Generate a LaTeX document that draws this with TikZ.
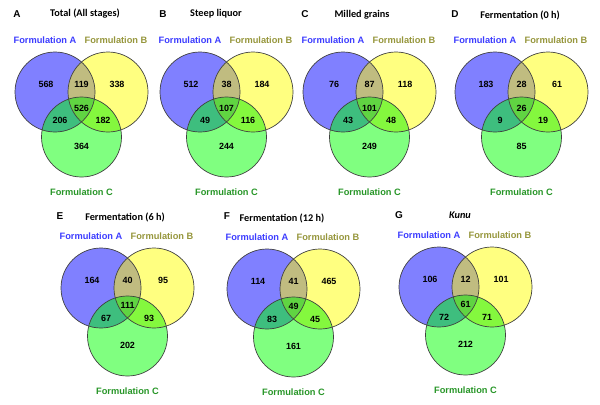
\documentclass[tikz,border=0pt]{standalone}
\usepackage{fontspec}
\setmainfont{Liberation Sans}
\newfontfamily\titlefont{Carlito}
\definecolor{colA}{RGB}{128,128,255}
\definecolor{colB}{RGB}{255,255,128}
\definecolor{colC}{RGB}{128,255,128}
\definecolor{colAB}{RGB}{192,188,128}
\definecolor{colAC}{RGB}{62,190,126}
\definecolor{colBC}{RGB}{132,248,62}
\definecolor{colABC}{RGB}{96,212,66}
\definecolor{txtA}{RGB}{60,60,255}
\definecolor{txtB}{RGB}{150,150,60}
\definecolor{txtC}{RGB}{40,150,40}

% one venn panel: name, x, y of circle A, drop of circle C, numbers
\newcommand{\venn}[5]{
  \begin{scope}[shift={(#2,#3)}]
    \coordinate (#1a) at (0,0);
    \coordinate (#1b) at (53,0);
    \coordinate (#1c) at (26.5,#4);
    \fill[colA] (#1a) circle [radius=40bp];
    \fill[colB] (#1b) circle [radius=40bp];
    \fill[colC] (#1c) circle [radius=40bp];
    \begin{scope}
      \clip (#1a) circle [radius=40bp];
      \fill[colAB] (#1b) circle [radius=40bp];
      \fill[colAC] (#1c) circle [radius=40bp];
    \end{scope}
    \begin{scope}
      \clip (#1b) circle [radius=40bp];
      \fill[colBC] (#1c) circle [radius=40bp];
      \clip (#1a) circle [radius=40bp];
      \fill[colABC] (#1c) circle [radius=40bp];
    \end{scope}
    \foreach \c in {a,b,c}
      \draw[ring] (#1\c) circle [radius=40bp];
    \node[lbl, txtA] (#1la) at (-10,-52) {Formulation A};
    \node[lbl, txtB] (#1lb) at (61,-52) {Formulation B};
    \node[lbl, txtC] (#1lc) at (26.5,#4+55) {Formulation C};
    \foreach \na/\nab/\nb/\nabc/\nac/\nbc/\nc in {#5} {
      \node[num] (#1na) at (-9,-7.5) {\na};
      \node[num] (#1nab) at (26.5,-7.5) {\nab};
      \node[num] (#1nb) at (62,-7.5) {\nb};
      \node[num] (#1nabc) at (26.5,0.36*#4) {\nabc};
      \node[num] (#1nac) at (5,0.63*#4) {\nac};
      \node[num] (#1nbc) at (48,0.63*#4) {\nbc};
      \node[num] (#1nc) at (26.5,1.2*#4) {\nc};
    }
  \end{scope}
}

\begin{document}
\begin{tikzpicture}[x=1bp, y=-1bp,
    ring/.style = {draw=black!75, line width=0.7bp},
    lbl/.style = {inner sep=0pt, font=\fontsize{9.3}{11}\selectfont\bfseries},
    num/.style = {inner sep=0pt, font=\fontsize{9}{11}\selectfont\bfseries},
    letter/.style = {inner sep=0pt, font=\fontsize{10}{12}\selectfont\bfseries},
    ttl/.style = {inner sep=0pt, font=\titlefont\fontsize{10.3}{12}\selectfont\bfseries}]
  \useasboundingbox (0,0) rectangle (600,404);

  \venn{pa}{55}{92}{45}{568/119/338/526/206/182/364}
  \venn{pb}{200}{92}{45}{512/38/184/107/49/116/244}
  \venn{pc}{343}{92}{45}{76/87/118/101/43/48/249}
  \venn{pd}{495}{92}{45}{183/28/61/26/9/19/85}
  \venn{pe}{101}{288}{48}{164/40/95/111/67/93/202}
  \venn{pf}{267}{289}{48}{114/41/465/49/83/45/161}
  \venn{pg}{439}{287}{48}{106/12/101/61/72/71/212}

  \node[letter] (la) at (17,14) {A};
  \node[ttl] (ta) at (85,14) {Total (All stages)};
  \node[letter] (lb) at (163,14) {B};
  \node[ttl] (tb) at (216,14) {Steep liquor};
  \node[letter] (lc) at (305,14) {C};
  \node[ttl] (tc) at (362,15) {Milled grains};
  \node[letter] (ld) at (455,14) {D};
  \node[ttl] (td) at (520,15) {Fermentation (0 h)};
  \node[letter] (le) at (60,216) {E};
  \node[ttl] (te) at (125,217) {Fermentation (6 h)};
  \node[letter] (lf) at (227,216) {F};
  \node[ttl] (tf) at (282,218) {Fermentation (12 h)};
  \node[letter] (lg) at (399,215) {G};
  \node[ttl] (tg) at (460,215) {\itshape Kunu};
\end{tikzpicture}
\end{document}
